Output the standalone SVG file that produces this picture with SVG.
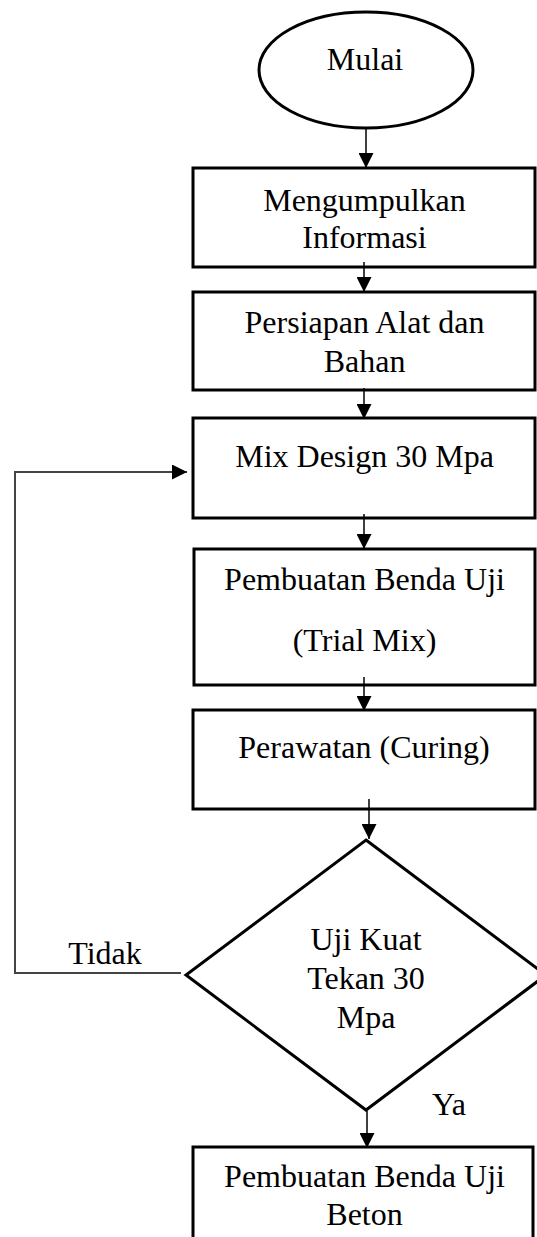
<svg xmlns="http://www.w3.org/2000/svg" width="537" height="1237" viewBox="0 0 537 1237">
<style>
  .shape { fill: #fff; stroke: #000; stroke-width: 3; }
  .lbl { font-family: "Liberation Serif", "Times New Roman", serif; font-size: 32px; fill: #000; text-anchor: middle; }
  .conn { fill: none; stroke: #000; stroke-width: 1.5; marker-end: url(#arrow); }
  .loop { fill: none; stroke: #444; stroke-width: 2; marker-end: url(#arrow); }
</style>
<defs>
  <marker id="arrow" markerUnits="userSpaceOnUse" markerWidth="15" markerHeight="15" refX="15" refY="7.5" orient="auto" viewBox="0 0 15 15">
    <path d="M0,0 L15,7.5 L0,15 z" fill="#000"/>
  </marker>
</defs>
<rect width="537" height="1237" fill="#fff"/>

<g id="mulai">
  <ellipse class="shape" cx="366" cy="70" rx="107" ry="58"/>
  <text class="lbl" x="365" y="70">Mulai</text>
</g>
<g id="mengumpulkan">
  <rect class="shape" x="193" y="168" width="342" height="99"/>
  <text class="lbl" x="364.5" y="211">Mengumpulkan</text>
  <text class="lbl" x="364.5" y="248">Informasi</text>
</g>
<g id="persiapan">
  <rect class="shape" x="193" y="292" width="342" height="98"/>
  <text class="lbl" x="364.5" y="333">Persiapan Alat dan</text>
  <text class="lbl" x="364.5" y="372">Bahan</text>
</g>
<g id="mixdesign">
  <rect class="shape" x="193" y="418" width="342" height="100"/>
  <text class="lbl" x="364.5" y="467">Mix Design 30 Mpa</text>
</g>
<g id="pembuatan-trial">
  <rect class="shape" x="194" y="549" width="341" height="136"/>
  <text class="lbl" x="364.5" y="590">Pembuatan Benda Uji</text>
  <text class="lbl" x="364.5" y="651">(Trial Mix)</text>
</g>
<g id="perawatan">
  <rect class="shape" x="193" y="710" width="342" height="99"/>
  <text class="lbl" x="364" y="758">Perawatan (Curing)</text>
</g>
<g id="uji-kuat">
  <polygon class="shape" points="366,840 546,975 366,1110 186,975"/>
  <text class="lbl" x="366" y="950">Uji Kuat</text>
  <text class="lbl" x="366" y="989">Tekan 30</text>
  <text class="lbl" x="366" y="1028">Mpa</text>
</g>
<g id="pembuatan-beton">
  <rect class="shape" x="193" y="1147" width="340" height="110"/>
  <text class="lbl" x="364.5" y="1187">Pembuatan Benda Uji</text>
  <text class="lbl" x="364.5" y="1225">Beton</text>
</g>

<g id="connectors">
  <line class="conn" x1="366" y1="128" x2="366" y2="168"/>
  <line class="conn" x1="364" y1="262" x2="364" y2="292"/>
  <line class="conn" x1="364" y1="388" x2="364" y2="419"/>
  <line class="conn" x1="364" y1="514" x2="364" y2="549"/>
  <line class="conn" x1="364" y1="677" x2="364" y2="711"/>
  <line class="conn" x1="369" y1="799" x2="369" y2="839"/>
  <line class="conn" x1="367" y1="1111" x2="367" y2="1148"/>
  <polyline class="loop" points="181,973 15,973 15,472 187,472"/>
  <text class="lbl" x="105" y="964">Tidak</text>
  <text class="lbl" x="449" y="1115">Ya</text>
</g>
</svg>
